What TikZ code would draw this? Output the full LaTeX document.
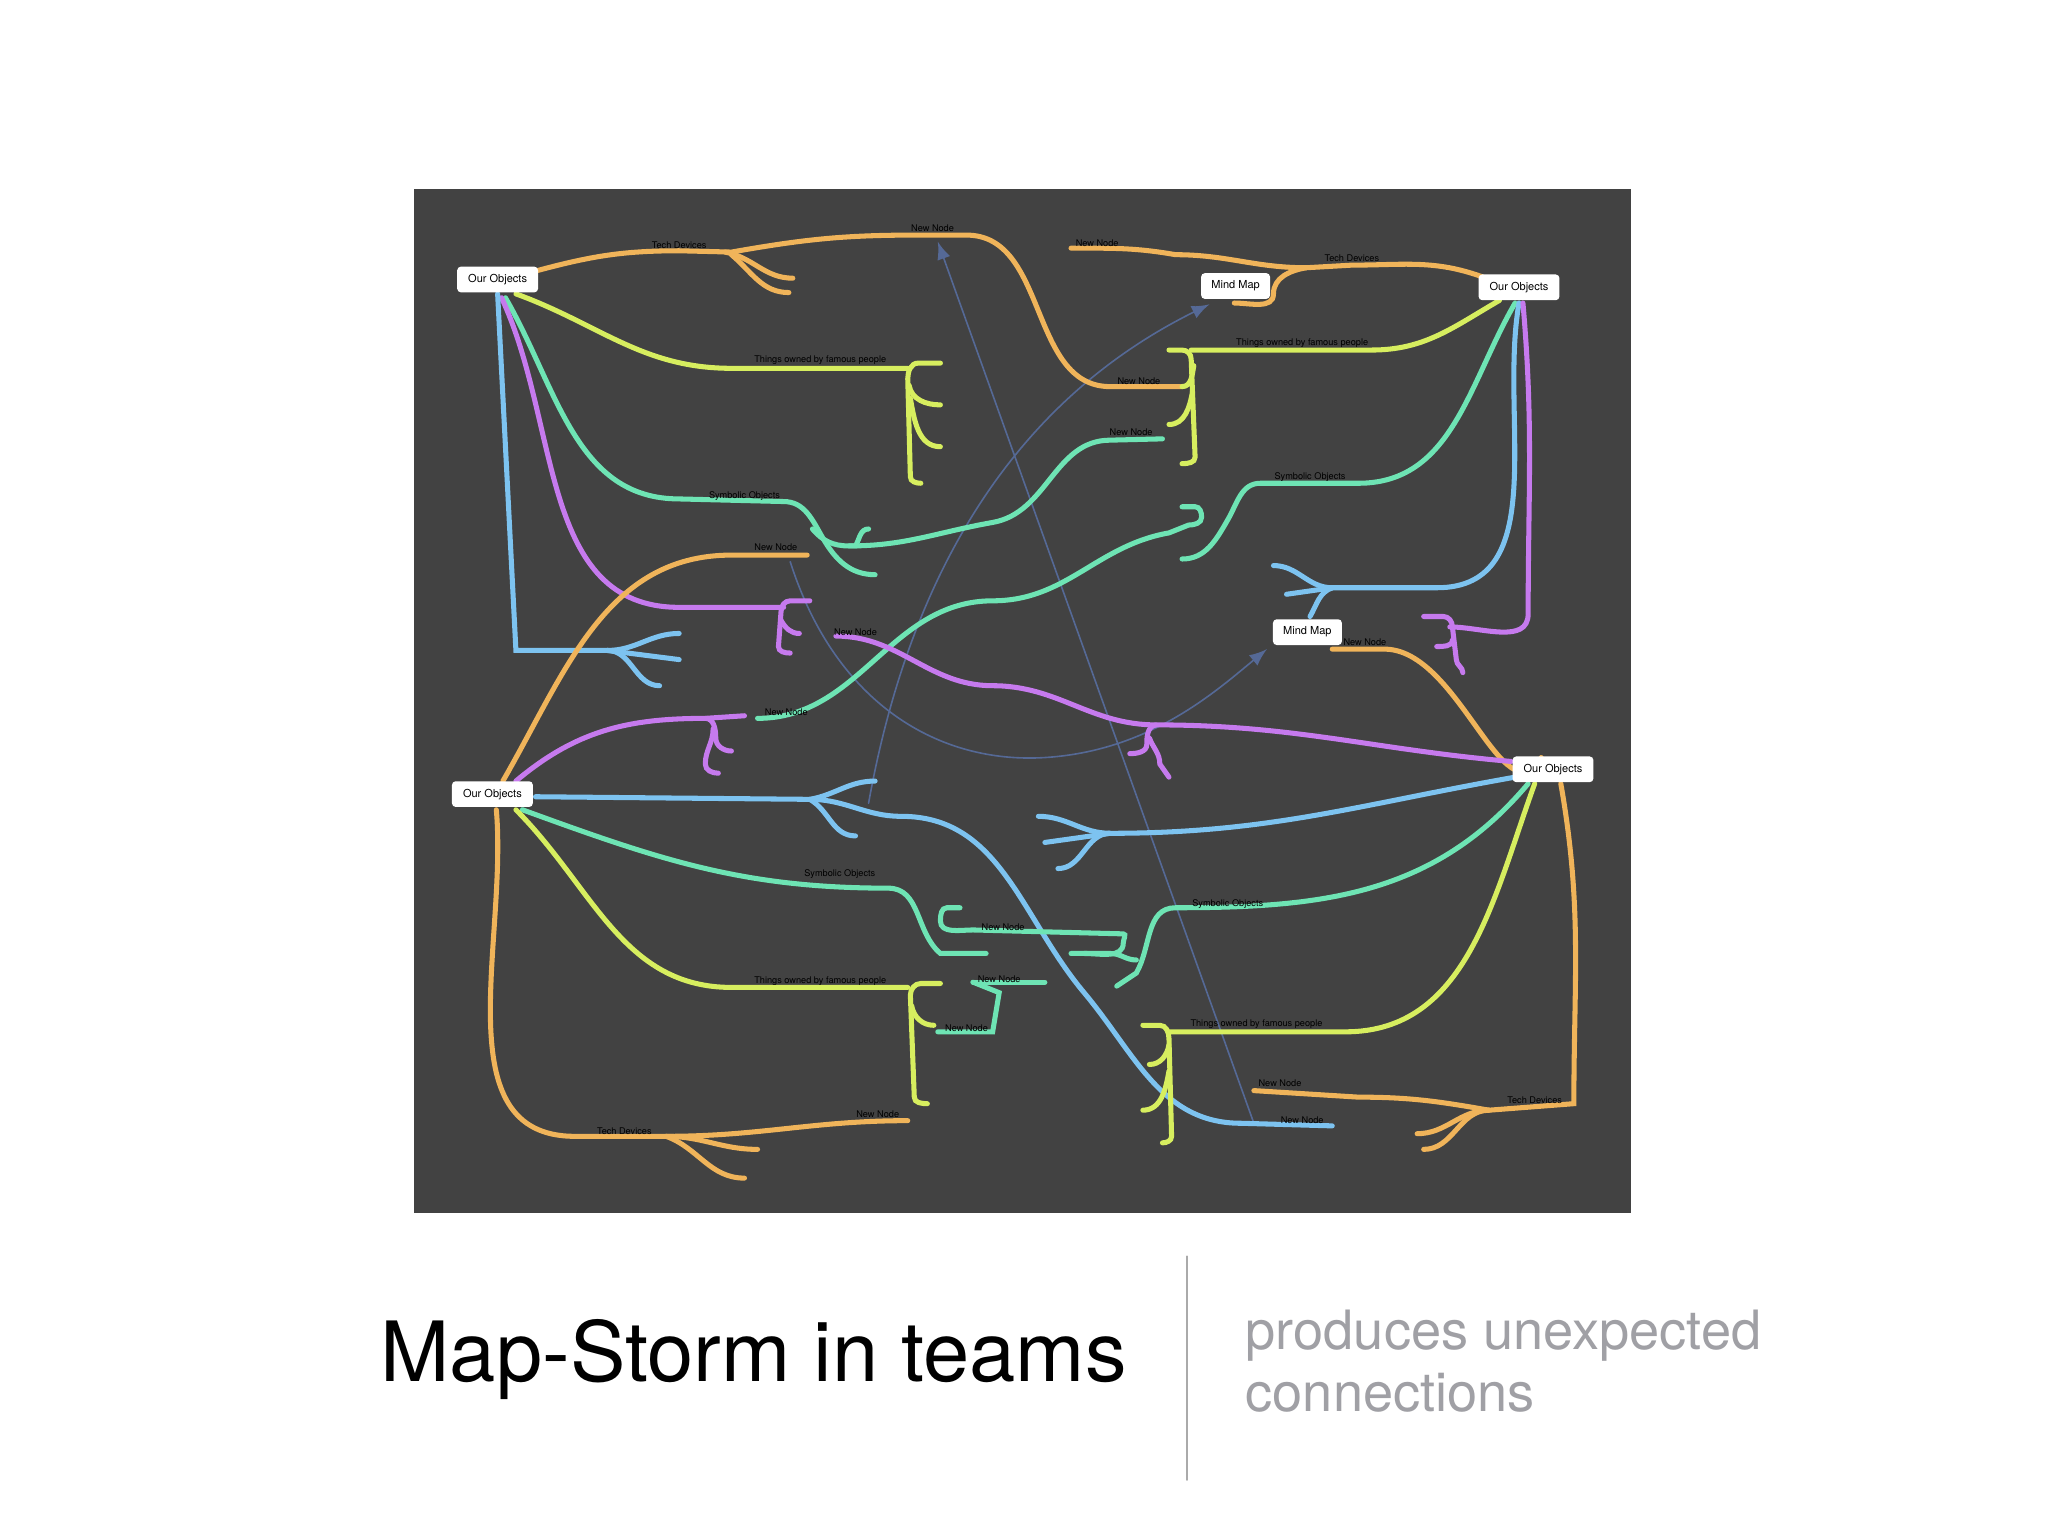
\documentclass[tikz,border=0pt]{standalone}
\usepackage{fontspec}
\setmainfont{TeX Gyre Heros}
\begin{document}
\begin{tikzpicture}[x=0.01cm,y=-0.01cm,line cap=round,
  br/.style={line width=1.1pt},
  orng/.style={br,draw={rgb,255:red,240;green,180;blue,90}},
  yel/.style={br,draw={rgb,255:red,215;green,238;blue,95}},
  tea/.style={br,draw={rgb,255:red,110;green,228;blue,180}},
  pur/.style={br,draw={rgb,255:red,198;green,122;blue,238}},
  blu/.style={br,draw={rgb,255:red,125;green,195;blue,240}},
  dim/.style={draw={rgb,255:red,85;green,105;blue,150},line width=0.35pt},
  lbl/.style={font=\fontsize{2}{2}\selectfont,text=black,inner sep=0pt},
  box/.style={fill=white,rounded corners=0.8pt,minimum width=17.6pt,minimum height=5.6pt,inner sep=0pt,font=\fontsize{2.4}{2.4}\selectfont}]
\path[fill=white] (0,0) rectangle (1568,1176);
\fill[fill={rgb,255:red,66;green,66;blue,66}] (317,145) rectangle (1249,929);
% dim connectors
\coordinate (d1) at (960,860);
\coordinate (d2) at (718,185);
\draw[dim,-latex] (d1) -- (d2);
\coordinate (d3) at (665,615);
\coordinate (d4) at (926,233);
\draw[dim,-latex] (d3) .. controls (700,420) and (790,300) .. (d4);
\coordinate (d5) at (605,430);
\coordinate (d6) at (970,497);
\draw[dim,-latex] (d5) .. controls (640,540) and (720,585) .. (800,580) .. controls (880,575) and (930,530) .. (d6);
% ---- OO1 ----
\draw[orng] (412,207) to[out=15,in=180] (520,192) -- (560,193) to[out=10,in=180] (700,180) -- (740,180) to[out=0,in=180] (850,296) -- (905,296);
\draw[orng] (555,193) to[out=-10,in=180] (607,213);
\draw[orng] (560,195) to[out=-40,in=180] (604,224);
\draw[yel] (395,225) to[out=-20,in=180] (560,282) -- (695,282);
\draw[yel] (720,278) -- (703,278) to[out=180,in=90] (695,290) -- (697,365) to[out=-90,in=180] (705,370);
\draw[yel] (696,295) to[out=-80,in=180] (720,310);
\draw[yel] (697,305) to[out=-80,in=180] (720,342);
\draw[tea] (387,228) to[out=-60,in=180] (520,382) -- (600,384) to[out=0,in=120] (630,412) to[out=-60,in=180] (670,440);
\draw[tea] (622,405) to[out=-50,in=180] (650,418) -- (655,418) to[out=60,in=180] (665,405);
\draw[tea] (650,418) to[out=0,in=190] (760,400) to[out=10,in=180] (850,337) -- (890,336);
\draw[pur] (384,228) to[out=-65,in=180] (520,465) -- (600,465);
\draw[pur] (620,460) -- (605,460) to[out=180,in=90] (598,468) -- (596,495) to[out=-90,in=180] (605,500);
\draw[pur] (598,475) to[out=-60,in=180] (612,485);
\draw[blu] (381,225) -- (395,498) -- (465,498);
\draw[blu] (465,498) to[out=0,in=180] (520,485);
\draw[blu] (465,498) -- (520,505);
\draw[blu] (465,498) to[out=0,in=180] (505,525);
% ---- OO2 ----
\draw[orng] (1135,212) to[out=160,in=0] (1035,203) -- (1000,205) to[out=180,in=0] (900,195) to[out=170,in=0] (820,190);
\draw[orng] (1000,205) to[out=190,in=90] (975,225) to[out=-90,in=0] (945,232);
\draw[yel] (1148,230) to[out=210,in=0] (1050,268) -- (912,268);
\draw[yel] (895,268) -- (905,268) to[out=0,in=90] (912,275) -- (915,350) to[out=-90,in=0] (905,355);
\draw[yel] (914,280) to[out=-100,in=0] (905,296);
\draw[yel] (913,300) to[out=-100,in=0] (895,325);
\draw[tea] (1160,232) to[out=240,in=0] (1040,370) -- (965,370) to[out=180,in=60] (940,398) to[out=240,in=0] (905,428);
\draw[tea] (905,388) -- (915,388) to[out=0,in=90] (920,396) to[out=-90,in=0] (910,402) -- (895,408) to[out=190,in=0] (760,460) to[out=180,in=0] (580,550);
\draw[blu] (1163,232) to[out=260,in=0] (1100,450) -- (1020,450);
\draw[blu] (1020,450) to[out=180,in=0] (975,433);
\draw[blu] (1020,450) -- (985,455);
\draw[blu] (1020,450) to[out=200,in=60] (1003,472);
\draw[pur] (1166,232) to[out=-85,in=90] (1170,470) to[out=-90,in=0] (1110,480);
\draw[pur] (1090,472) -- (1105,472) to[out=0,in=90] (1112,480) -- (1115,505) to[out=-90,in=90] (1120,515);
\draw[pur] (1112,490) to[out=-90,in=0] (1100,495);
% ---- MM2 / OO4 links ----
\draw[orng] (1020,497) -- (1060,497) to[out=0,in=240] (1180,580);
\draw[pur] (1157,583) to[out=175,in=0] (885,555) to[out=180,in=0] (760,525) to[out=180,in=0] (640,487);
\draw[pur] (885,555) to[out=190,in=90] (878,570) to[out=-90,in=0] (865,577);
\draw[pur] (880,565) to[out=-70,in=90] (888,585) -- (895,595);
% ---- OO3 ----
\draw[orng] (385,598) to[out=60,in=180] (560,425) -- (618,425);
\draw[pur] (395,598) to[out=40,in=180] (540,550) -- (570,548);
\draw[pur] (540,550) to[out=0,in=90] (548,565) to[out=-90,in=180] (560,575);
\draw[pur] (546,558) to[out=-90,in=90] (540,585) to[out=-90,in=180] (550,592);
\draw[blu] (410,610) -- (620,612) to[out=10,in=180] (670,598);
\draw[blu] (620,612) to[out=-30,in=180] (655,640);
\draw[blu] (620,612) to[out=0,in=180] (690,625) to[out=0,in=130] (830,760) to[out=-50,in=180] (950,860) -- (1020,862);
\draw[tea] (400,620) to[out=-20,in=180] (680,680) to[out=0,in=140] (720,730) -- (755,730);
\draw[tea] (735,695) -- (725,695) to[out=180,in=90] (720,705) to[out=-90,in=180] (745,712) -- (860,715) to[out=0,in=90] (860,722) to[out=-90,in=0] (830,730);
\draw[tea] (745,752) -- (800,752);
\draw[tea] (718,790) -- (760,790) -- (765,760) -- (745,752);
\draw[yel] (395,620) to[out=-45,in=180] (560,756) -- (695,756);
\draw[yel] (720,753) -- (705,753) to[out=180,in=90] (697,762) -- (700,840) to[out=-90,in=180] (710,845);
\draw[yel] (698,770) to[out=-80,in=180] (715,785);
\draw[orng] (380,620) to[out=-85,in=180] (440,870) -- (510,870) to[out=0,in=180] (580,880);
\draw[orng] (510,870) to[out=-20,in=180] (570,902);
\draw[orng] (510,870) to[out=0,in=180] (695,858);
% ---- OO4 ----
\draw[blu] (1160,595) to[out=190,in=0] (850,638) to[out=180,in=0] (795,625);
\draw[blu] (850,638) -- (800,645);
\draw[blu] (850,638) to[out=180,in=0] (810,665);
\draw[tea] (1170,600) to[out=230,in=0] (900,695) to[out=180,in=60] (870,745) -- (855,755);
\draw[tea] (820,730) -- (850,730) to[out=0,in=180] (870,735);
\draw[yel] (1175,600) to[out=250,in=0] (1030,790) -- (895,790);
\draw[yel] (875,785) -- (888,785) to[out=0,in=90] (895,795) -- (897,870) to[out=-90,in=0] (890,875);
\draw[yel] (895,800) to[out=-100,in=0] (880,815);
\draw[yel] (895,820) to[out=-100,in=0] (875,850);
\draw[orng] (1195,600) to[out=-80,in=90] (1205,845) -- (1140,850) to[out=180,in=0] (1090,880);
\draw[orng] (1140,850) to[out=180,in=0] (1085,868);
\draw[orng] (1140,850) to[out=170,in=0] (1040,840) -- (960,835);
% ---- nodes ----
\node[box] (oo1) at (381,214) {Our Objects};
\node[box] (oo2) at (1163,220) {Our Objects};
\node[box] (oo3) at (377,608) {Our Objects};
\node[box] (oo4) at (1189,589) {Our Objects};
\node[box,minimum width=15pt] (mm1) at (946,219) {Mind Map};
\node[box,minimum width=15pt] (mm2) at (1001,484) {Mind Map};
% ---- labels ----
\node[lbl] (l1) at (520,188) {Tech Devices};
\node[lbl] (l2) at (714,175) {New Node};
\node[lbl] (l3) at (628,276) {Things owned by famous people};
\node[lbl] (l4) at (570,380) {Symbolic Objects};
\node[lbl] (l5) at (594,419) {New Node};
\node[lbl] (l6) at (655,484) {New Node};
\node[lbl] (l7) at (602,545) {New Node};
\node[lbl] (l8) at (840,186) {New Node};
\node[lbl] (l9) at (1035,198) {Tech Devices};
\node[lbl] (l10) at (997,263) {Things owned by famous people};
\node[lbl] (l11) at (872,292) {New Node};
\node[lbl] (l12) at (866,331) {New Node};
\node[lbl] (l13) at (1003,365) {Symbolic Objects};
\node[lbl] (l14) at (1045,492) {New Node};
\node[lbl] (l15) at (643,669) {Symbolic Objects};
\node[lbl] (l16) at (940,692) {Symbolic Objects};
\node[lbl] (l17) at (768,710) {New Node};
\node[lbl] (l18) at (765,750) {New Node};
\node[lbl] (l19) at (740,787) {New Node};
\node[lbl] (l20) at (628,751) {Things owned by famous people};
\node[lbl] (l21) at (962,784) {Things owned by famous people};
\node[lbl] (l22) at (478,866) {Tech Devices};
\node[lbl] (l23) at (672,853) {New Node};
\node[lbl] (l24) at (980,829) {New Node};
\node[lbl] (l25) at (997,858) {New Node};
\node[lbl] (l26) at (1175,842) {Tech Devices};
% ---- caption ----
\node[anchor=base,font=\fontsize{18.1}{19}\selectfont] (t1) at (577,1058) {Map-Storm in teams};
\coordinate (va) at (909,962);
\coordinate (vb) at (909,1133);
\draw[draw={rgb,255:red,170;green,170;blue,170},line width=0.5pt] (va) -- (vb);
\node[anchor=base west,font=\fontsize{11.8}{13.5}\selectfont,text={rgb,255:red,160;green,160;blue,165},align=left,inner sep=0pt] (t2) at (953,1081) {produces unexpected\\connections};
\end{tikzpicture}
\end{document}
